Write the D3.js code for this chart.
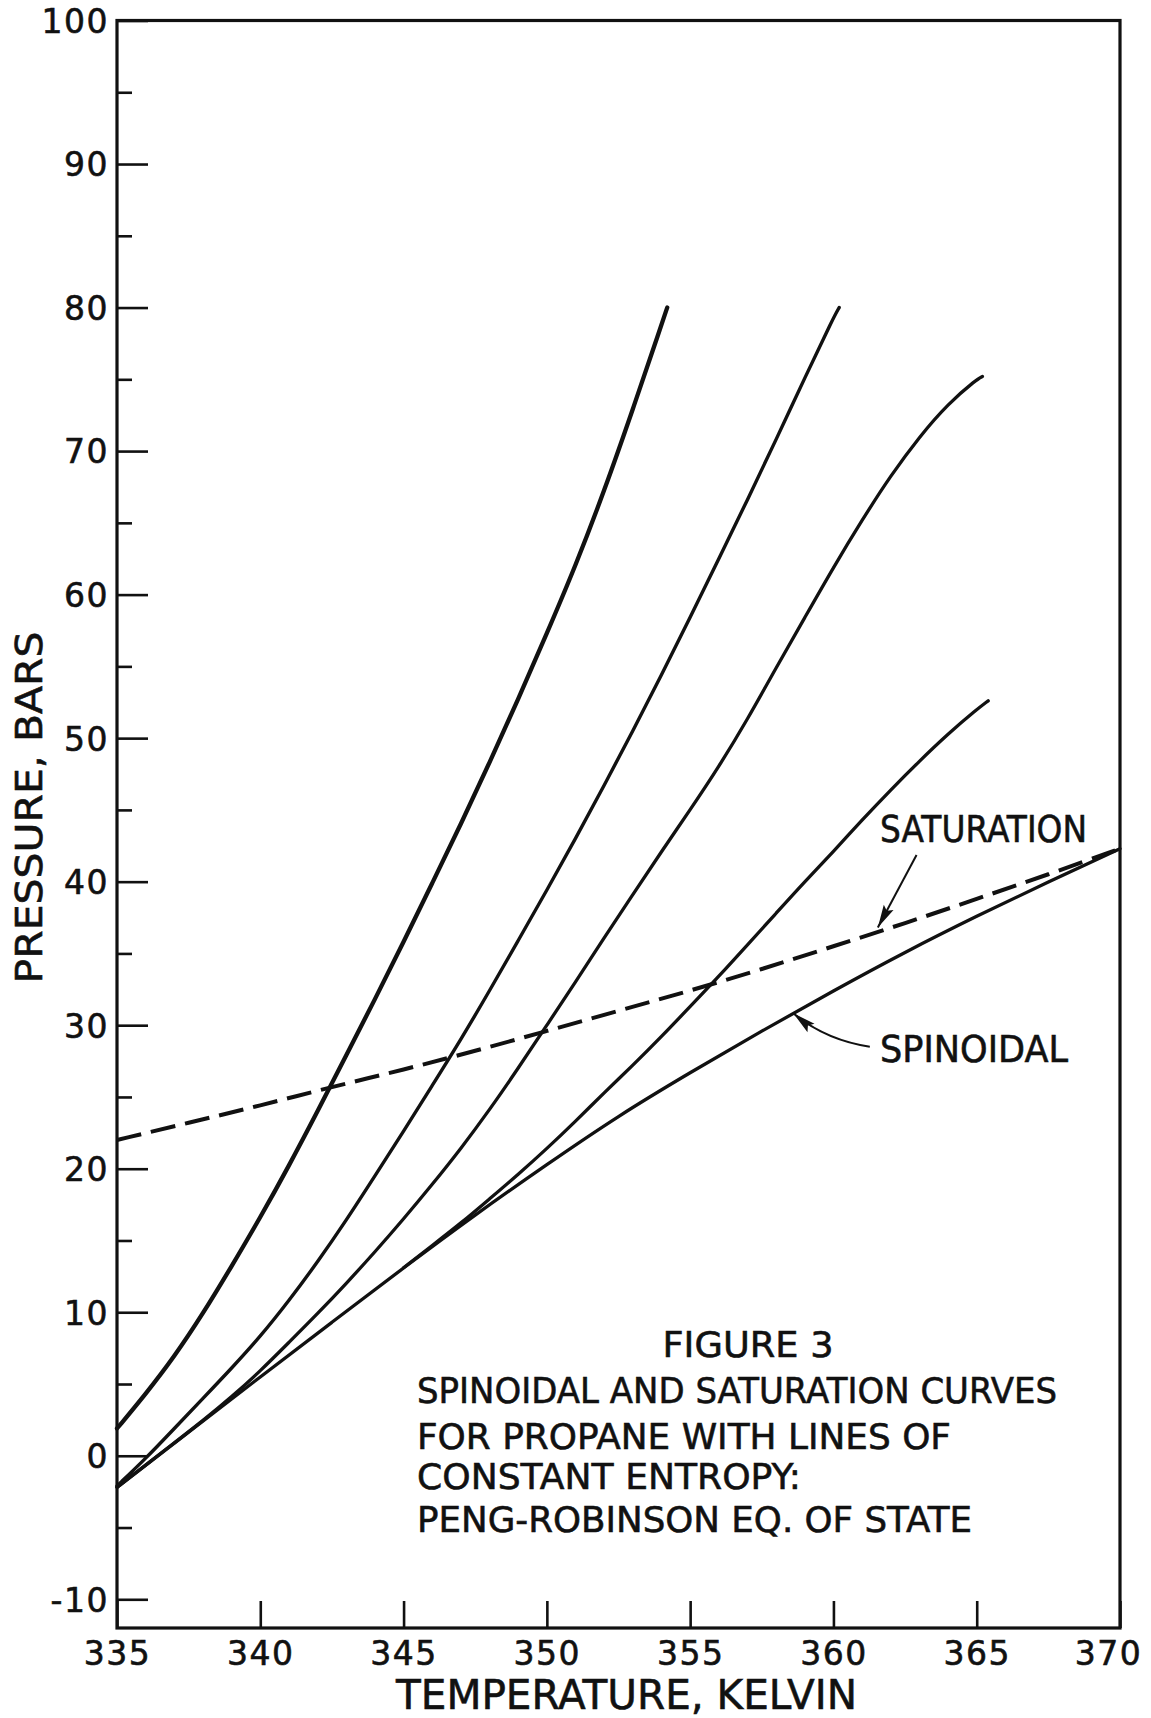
<!DOCTYPE html>
<html>
<head>
<meta charset="utf-8">
<script src="https://cdn.jsdelivr.net/npm/d3@7"></script>
<style>
  html, body { margin: 0; padding: 0; background: #fff; }
  svg { display: block; }
  text { font-family: "DejaVu Sans", "Liberation Sans", sans-serif; fill: #111; }
</style>
</head>
<body>
<svg id="chart" width="1151" height="1718"></svg>
<script>
// Propane, Peng-Robinson equation of state: temperature (K) vs pressure (bar)

const xTicks = [335, 340, 345, 350, 355, 360, 365, 370];
const yMajorTicks = [-10, 0, 10, 20, 30, 40, 50, 60, 70, 80, 90, 100];
const yMinorTicks = [-5, 5, 15, 25, 35, 45, 55, 65, 75, 85, 95];

// [temperature K, pressure bar]
const spinoidal = [
  [335, -2.2], [337.5, 1.65], [340, 5.5], [342.5, 9.3], [345, 13.1], [347.5, 16.8],
  [350, 20.3], [352.5, 23.7], [355, 26.7], [357.5, 29.6], [360, 32.4], [362.5, 35.1],
  [365, 37.6], [367.5, 40.0], [370, 42.3]
];

const saturation = [
  [335, 22.0], [337.5, 23.2], [340, 24.4], [342.5, 25.7], [345, 26.9], [347.5, 28.2],
  [350, 29.6], [352.5, 31.0], [355, 32.4], [357.5, 33.9], [360, 35.5], [362.5, 37.1],
  [365, 38.8], [367.5, 40.5], [370, 42.3]
];

// lines of constant entropy, steepest first
const isentrope1 = [
  [335, 1.9], [336, 4.3], [337, 6.9], [338, 9.9], [339, 13.2], [340, 16.6], [341, 20.2],
  [342, 24.0], [343, 27.9], [344, 31.8], [345, 35.8], [346, 39.9], [347, 44.0], [348, 48.3],
  [349, 52.7], [350, 57.3], [351, 62.0], [352, 67.2], [353, 72.9], [354, 78.8], [354.2, 80]
];

const isentrope2 = [
  [335, -2.1], [336, -0.2], [337, 1.9], [338, 4.0], [339, 6.1], [340, 8.3], [341, 10.8],
  [342, 13.5], [343, 16.4], [344, 19.5], [345, 22.6], [346, 25.8], [347, 29.0], [348, 32.4],
  [349, 35.9], [350, 39.4], [351, 43.0], [352, 46.7], [353, 50.5], [354, 54.4], [355, 58.4],
  [356, 62.5], [357, 66.6], [358, 70.8], [359, 75.1], [360, 79.3], [360.2, 80]
];

const isentrope3 = [
  [335, -2.2], [336, -0.65], [337, 0.9], [338, 2.45], [339, 4.1], [340, 5.9], [341, 7.9],
  [342, 9.9], [343, 12.0], [344, 14.2], [345, 16.5], [346, 18.9], [347, 21.4], [348, 24.1],
  [349, 27.0], [350, 30.0], [351, 33.0], [352, 36.1], [353, 39.1], [354, 42.1], [355, 45.0],
  [356, 48.0], [357, 51.3], [358, 54.9], [359, 58.4], [360, 61.9], [361, 65.2], [362, 68.3],
  [363, 71.0], [364, 73.3], [365, 75.0], [365.2, 75.2]
];

const isentrope4 = [
  [345, 13.1], [346, 14.65], [347, 16.2], [348, 17.9], [349, 19.6], [350, 21.4], [351, 23.3],
  [352, 25.3], [353, 27.2], [354, 29.2], [355, 31.3], [356, 33.4], [357, 35.6], [358, 37.8],
  [359, 40.0], [360, 42.1], [361, 44.3], [362, 46.4], [363, 48.4], [364, 50.3], [365, 52.0],
  [365.4, 52.6]
];

const captionLines = [
  "SPINOIDAL AND SATURATION CURVES",
  "FOR PROPANE WITH LINES OF",
  "CONSTANT ENTROPY:",
  "PENG-ROBINSON EQ. OF STATE"
];

// ---------------------------------------------------------------
const svg = d3.select("#chart");
const ink = "#111";

const x = d3.scaleLinear().domain([335, 370]).range([117, 1120]);
const y = d3.scaleLinear().domain([-12, 100]).range([1628, 20.5]);

// arrowhead marker
const defs = svg.append("defs");
defs.append("marker")
  .attr("id", "arrow")
  .attr("markerUnits", "userSpaceOnUse")
  .attr("viewBox", "-24 -7 26 14")
  .attr("markerWidth", 26)
  .attr("markerHeight", 14)
  .attr("refX", 0)
  .attr("refY", 0)
  .attr("orient", "auto")
  .append("path")
  .attr("d", "M0,0 L-23,-5.5 L-19,0 L-23,5.5 Z")
  .attr("fill", ink);

// lettering weight
function letter(sel) {
  sel.attr("fill", ink).attr("stroke", ink).attr("stroke-width", 0.6)
    .style("font-family", '"DejaVu Sans", sans-serif');
}

// y axis: major and minor ticks pointing inward
const yMajor = svg.append("g")
  .attr("transform", `translate(${x(335)},0)`)
  .call(d3.axisLeft(y).tickValues(yMajorTicks).tickSizeInner(-31).tickSizeOuter(0)
    .tickPadding(8).tickFormat(d => String(d)));
yMajor.select(".domain").remove();
yMajor.selectAll(".tick line").attr("stroke", ink).attr("stroke-width", 2.6);
yMajor.selectAll(".tick text")
  .attr("font-size", 33).attr("dy", "0.36em").attr("letter-spacing", 1.5)
  .call(letter);

const yMinor = svg.append("g")
  .attr("transform", `translate(${x(335)},0)`)
  .call(d3.axisLeft(y).tickValues(yMinorTicks).tickSizeInner(-15).tickSizeOuter(0)
    .tickFormat(() => ""));
yMinor.select(".domain").remove();
yMinor.selectAll(".tick line").attr("stroke", ink).attr("stroke-width", 2.6);

// x axis
const xAxis = svg.append("g")
  .attr("transform", `translate(0,${y(-12)})`)
  .call(d3.axisBottom(x).tickValues(xTicks).tickSizeInner(-27).tickSizeOuter(0)
    .tickFormat(d => String(d)));
xAxis.select(".domain").remove();
xAxis.selectAll(".tick line").attr("stroke", ink).attr("stroke-width", 2.6);
xAxis.selectAll(".tick text")
  .attr("font-size", 33).attr("y", 37).attr("dy", null).attr("letter-spacing", 1.5)
  .attr("dx", d => d === 370 ? -12 : 0)
  .call(letter);

// frame
svg.append("rect")
  .attr("x", x(335)).attr("y", y(100))
  .attr("width", x(370) - x(335)).attr("height", y(-12) - y(100))
  .attr("fill", "none").attr("stroke", ink).attr("stroke-width", 3.2);

// curves
const line = d3.line()
  .x(d => x(d[0]))
  .y(d => y(d[1]))
  .curve(d3.curveBasis);

const plot = svg.append("g").attr("fill", "none").attr("stroke", ink)
  .attr("stroke-linecap", "round").attr("stroke-linejoin", "round");

plot.append("path").datum(spinoidal).attr("d", line).attr("stroke-width", 3.3);
plot.append("path").datum(isentrope4).attr("d", line).attr("stroke-width", 3.3);
plot.append("path").datum(isentrope3).attr("d", line).attr("stroke-width", 3.3);
plot.append("path").datum(isentrope2).attr("d", line).attr("stroke-width", 3.4);
plot.append("path").datum(isentrope1).attr("d", line).attr("stroke-width", 4.3);
plot.append("path").datum(saturation).attr("d", line)
  .attr("stroke-width", 4).attr("stroke-linecap", "butt")
  .attr("stroke-dasharray", "25,10");

// annotations with arrows (anchored in data units)
svg.append("path")
  .attr("d", `M${x(362.9)},${y(41.86)} L${x(361.55)},${y(36.8)}`)
  .attr("stroke", ink).attr("stroke-width", 2).attr("fill", "none")
  .attr("marker-end", "url(#arrow)");

svg.append("path")
  .attr("d", `M${x(361.27)},${y(28.5)} Q${x(359.72)},${y(28.97)} ${x(358.6)},${y(30.83)}`)
  .attr("stroke", ink).attr("stroke-width", 2).attr("fill", "none")
  .attr("marker-end", "url(#arrow)");

svg.append("text")
  .attr("x", 880).attr("y", 842)
  .attr("font-size", 37).attr("textLength", 207).attr("lengthAdjust", "spacingAndGlyphs")
  .call(letter)
  .text("SATURATION");

svg.append("text")
  .attr("x", 880).attr("y", 1062)
  .attr("font-size", 37).attr("textLength", 188).attr("lengthAdjust", "spacingAndGlyphs")
  .call(letter)
  .text("SPINOIDAL");

// caption
svg.append("text")
  .attr("x", 748).attr("y", 1357).attr("text-anchor", "middle")
  .attr("font-size", 36).attr("textLength", 171).attr("lengthAdjust", "spacingAndGlyphs")
  .call(letter)
  .text("FIGURE 3");

const captionBaselines = [1403, 1449, 1489, 1532];
const captionWidths = [640, 534, 384, 555];
svg.append("g").selectAll("text")
  .data(captionLines)
  .join("text")
  .attr("x", 417)
  .attr("y", (d, i) => captionBaselines[i])
  .attr("font-size", 36)
  .attr("textLength", (d, i) => captionWidths[i])
  .attr("lengthAdjust", "spacingAndGlyphs")
  .call(letter)
  .text(d => d);

// axis titles
svg.append("text")
  .attr("x", 626.5).attr("y", 1709).attr("text-anchor", "middle")
  .attr("font-size", 41).attr("textLength", 461).attr("lengthAdjust", "spacingAndGlyphs")
  .call(letter)
  .text("TEMPERATURE, KELVIN");

svg.append("text")
  .attr("transform", "translate(42,807.5) rotate(-90)")
  .attr("text-anchor", "middle")
  .attr("font-size", 38).attr("textLength", 352).attr("lengthAdjust", "spacingAndGlyphs")
  .call(letter)
  .text("PRESSURE, BARS");
</script>
</body>
</html>
